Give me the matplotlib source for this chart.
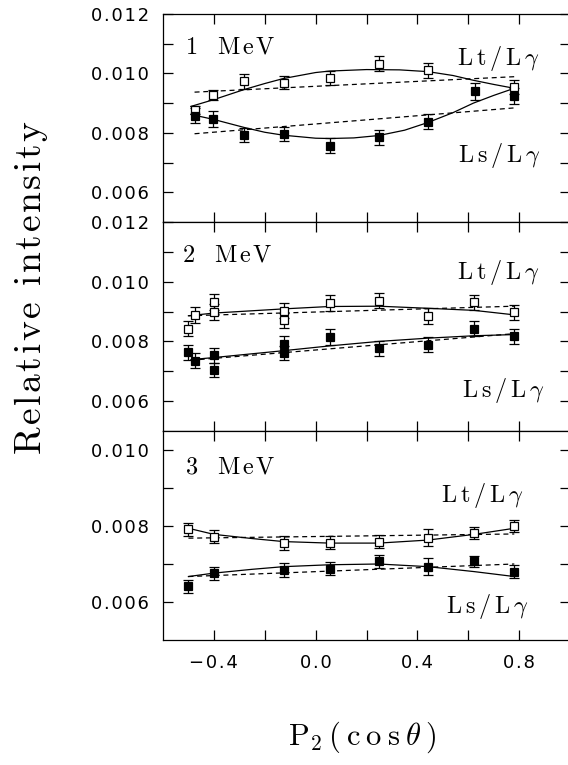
import matplotlib
matplotlib.use("Agg")
import matplotlib.pyplot as plt
from matplotlib.ticker import FixedLocator, FixedFormatter

plt.rcParams['mathtext.fontset'] = 'cm'
plt.rcParams['font.family'] = ['DejaVu Sans']

# ---------------- data ----------------
energies = ["1", "2", "3"]

# Panel 1 (1 MeV)
p1_lt_x = [-0.476, -0.402, -0.281, -0.126, 0.055, 0.248, 0.442, 0.781]
p1_lt_y = [0.00877, 0.00927, 0.00974, 0.00969, 0.00985, 0.01033, 0.01010, 0.00954]
p1_lt_e = [0.00014, 0.00017, 0.00025, 0.00023, 0.00024, 0.00024, 0.00025, 0.00023]
p1_ls_x = [-0.476, -0.402, -0.281, -0.126, 0.055, 0.248, 0.442, 0.626, 0.781]
p1_ls_y = [0.00858, 0.00847, 0.00793, 0.00797, 0.00757, 0.00785, 0.00837, 0.00940, 0.00924]
p1_ls_e = [0.00025, 0.00026, 0.00024, 0.00024, 0.00025, 0.00025, 0.00025, 0.00028, 0.00026]
p1_lt_fit_x = [-0.49, -0.40, -0.28, -0.20, -0.126, 0.0, 0.055, 0.20, 0.33, 0.442, 0.54, 0.62, 0.70, 0.781]
p1_lt_fit_y = [0.00889, 0.00912, 0.00946, 0.00966, 0.00983, 0.01003, 0.01008, 0.01013, 0.01012,
               0.01006, 0.00993, 0.00977, 0.00963, 0.00950]
p1_ls_fit_x = [-0.49, -0.40, -0.28, -0.20, -0.126, 0.0, 0.055, 0.15, 0.248, 0.35, 0.442, 0.54, 0.62, 0.70, 0.781]
p1_ls_fit_y = [0.00862, 0.00845, 0.00818, 0.00802, 0.00792, 0.00782, 0.00781, 0.00783, 0.00791,
               0.00809, 0.00835, 0.00868, 0.00900, 0.00926, 0.00950]
p1_lt_lin_x = [-0.476, 0.781]
p1_lt_lin_y = [0.00937, 0.00989]
p1_ls_lin_x = [-0.476, 0.781]
p1_ls_lin_y = [0.00797, 0.00884]

# Panel 2 (2 MeV)
p2_x = [-0.503, -0.476, -0.399, -0.399, -0.126, -0.126, 0.055, 0.248, 0.442, 0.623, 0.781]
p2_lt_y = [0.00843, 0.00888, 0.00932, 0.00899, 0.00903, 0.00871, 0.00929, 0.00937, 0.00886, 0.00931, 0.00897]
p2_lt_e = [0.00025, 0.00026, 0.00026, 0.00026, 0.00026, 0.00025, 0.00026, 0.00025, 0.00027, 0.00025, 0.00025]
p2_ls_y = [0.00764, 0.00736, 0.00753, 0.00705, 0.00792, 0.00762, 0.00815, 0.00777, 0.00789, 0.00842, 0.00817]
p2_ls_e = [0.00025, 0.00024, 0.00026, 0.00024, 0.00026, 0.00024, 0.00026, 0.00025, 0.00025, 0.00025, 0.00026]
p2_lt_fit_x = [-0.50, -0.40, -0.126, 0.055, 0.248, 0.442, 0.623, 0.781]
p2_lt_fit_y = [0.00886, 0.00895, 0.00909, 0.00917, 0.00918, 0.00911, 0.00904, 0.00889]
p2_ls_fit_x = [-0.49, -0.40, -0.126, 0.055, 0.248, 0.442, 0.623, 0.781]
p2_ls_fit_y = [0.00739, 0.00746, 0.00769, 0.00785, 0.00800, 0.00811, 0.00819, 0.00823]
p2_lt_lin_x = [-0.50, 0.781]
p2_lt_lin_y = [0.00886, 0.00918]
p2_ls_lin_x = [-0.49, 0.781]
p2_ls_lin_y = [0.00737, 0.00826]

# Panel 3 (3 MeV)
p3_x = [-0.50, -0.399, -0.126, 0.055, 0.248, 0.442, 0.623, 0.781]
p3_lt_y = [0.00791, 0.00772, 0.00755, 0.00756, 0.00759, 0.00769, 0.00781, 0.00800]
p3_lt_e = [0.00018, 0.00017, 0.00018, 0.00017, 0.00017, 0.00022, 0.00016, 0.00017]
p3_ls_y = [0.00641, 0.00676, 0.00685, 0.00687, 0.00707, 0.00693, 0.00707, 0.00680]
p3_ls_e = [0.00018, 0.00017, 0.00018, 0.00017, 0.00017, 0.00022, 0.00015, 0.00017]
p3_lt_fit_x = [-0.50, -0.40, -0.25, -0.126, 0.055, 0.248, 0.442, 0.623, 0.781]
p3_lt_fit_y = [0.00794, 0.00778, 0.00767, 0.00759, 0.00755, 0.00755, 0.00763, 0.00778, 0.00794]
p3_ls_fit_x = [-0.50, -0.40, -0.25, -0.126, 0.055, 0.248, 0.442, 0.623, 0.781]
p3_ls_fit_y = [0.00667, 0.00676, 0.00686, 0.00693, 0.00698, 0.00700, 0.00693, 0.00680, 0.00667]
p3_lt_lin_x = [-0.50, 0.781]
p3_lt_lin_y = [0.00768, 0.00779]
p3_ls_lin_x = [-0.50, 0.781]
p3_ls_lin_y = [0.00667, 0.00700]

x_ticks = [-0.4, -0.2, 0.0, 0.2, 0.4, 0.6, 0.8]
x_tick_labels = ["\u22120.4", "", "0.0", "", "0.4", "", "0.8"]
y_ticks_12 = [0.006, 0.008, 0.010, 0.012]
y_tick_labels_12 = ["0.006", "0.008", "0.010", "0.012"]
y_minor_12 = [0.007, 0.009, 0.011]
y_ticks_3 = [0.006, 0.008, 0.010]
y_tick_labels_3 = ["0.006", "0.008", "0.010"]
y_minor_3 = [0.007, 0.009]

# ---------------- helpers ----------------
def spaced(s):
    return "\u200a".join(s)


def mt(tokens, gap):
    return "$" + (r"\hspace{%.2f}" % gap).join(tokens) + "$"


def word_tokens(s):
    out = []
    for ch in s:
        if ch == " ":
            out.append(r"\ ")
        elif ch == "γ":
            out.append(r"\gamma")
        elif ch == "θ":
            out.append(r"\theta")
        else:
            out.append(r"\mathrm{%s}" % ch)
    return out

# ---------------- figure ----------------
W, H = 568, 765
fig = plt.figure(figsize=(W / 100, H / 100), dpi=100)

left = 163 / W
width = (570 - 163) / W
panel_px = [(14, 222), (222, 431), (431, 640)]
ylims = [(0.005, 0.012), (0.005, 0.012), (0.005, 0.0105)]

panels = [
    dict(lt=(p1_lt_x, p1_lt_y, p1_lt_e), ls=(p1_ls_x, p1_ls_y, p1_ls_e),
         ltfit=(p1_lt_fit_x, p1_lt_fit_y), lsfit=(p1_ls_fit_x, p1_ls_fit_y),
         ltlin=(p1_lt_lin_x, p1_lt_lin_y), lslin=(p1_ls_lin_x, p1_ls_lin_y),
         yt=y_ticks_12, ytl=y_tick_labels_12, ym=y_minor_12,
         lab=(0.054, 0.8125), lt_pos=(0.722, 0.755), ls_pos=(0.725, 0.288)),
    dict(lt=(p2_x, p2_lt_y, p2_lt_e), ls=(p2_x, p2_ls_y, p2_ls_e),
         ltfit=(p2_lt_fit_x, p2_lt_fit_y), lsfit=(p2_ls_fit_x, p2_ls_fit_y),
         ltlin=(p2_lt_lin_x, p2_lt_lin_y), lslin=(p2_ls_lin_x, p2_ls_lin_y),
         yt=y_ticks_12, ytl=y_tick_labels_12, ym=y_minor_12,
         lab=(0.047, 0.809), lt_pos=(0.722, 0.727), ls_pos=(0.735, 0.163)),
    dict(lt=(p3_x, p3_lt_y, p3_lt_e), ls=(p3_x, p3_ls_y, p3_ls_e),
         ltfit=(p3_lt_fit_x, p3_lt_fit_y), lsfit=(p3_ls_fit_x, p3_ls_fit_y),
         ltlin=(p3_lt_lin_x, p3_lt_lin_y), lslin=(p3_ls_lin_x, p3_ls_lin_y),
         yt=y_ticks_3, ytl=y_tick_labels_3, ym=y_minor_3,
         lab=(0.054, 0.799), lt_pos=(0.682, 0.66), ls_pos=(0.695, 0.129)),
]

lw = 0.9
for i, (pp, pan) in enumerate(zip(panel_px, panels)):
    top, bot = pp
    ax = fig.add_axes([left, 1 - bot / H, width, (bot - top) / H])
    ax.set_xlim(-0.6, 1.0)
    ax.set_ylim(*ylims[i])
    for sp in ax.spines.values():
        sp.set_linewidth(lw)

    # fits
    ax.plot(*pan["ltfit"], color="black", lw=lw, zorder=2)
    ax.plot(*pan["lsfit"], color="black", lw=lw, zorder=2)
    ax.plot(*pan["ltlin"], color="black", lw=lw, ls=(0, (4, 3)), zorder=2)
    ax.plot(*pan["lslin"], color="black", lw=lw, ls=(0, (4, 3)), zorder=2)

    # data
    x, y, e = pan["lt"]
    ax.errorbar(x, y, yerr=e, fmt="s", ms=5.5, mfc="white", mec="black", mew=0.9,
                ecolor="black", elinewidth=lw, capsize=3.5, capthick=lw, zorder=3)
    x, y, e = pan["ls"]
    ax.errorbar(x, y, yerr=e, fmt="s", ms=5.5, mfc="black", mec="black", mew=0.9,
                ecolor="black", elinewidth=lw, capsize=3.5, capthick=lw, zorder=3)

    # ticks
    ax.xaxis.set_major_locator(FixedLocator(x_ticks))
    if i == 2:
        ax.xaxis.set_major_formatter(FixedFormatter([spaced(t) for t in x_tick_labels]))
    else:
        ax.xaxis.set_major_formatter(FixedFormatter([""] * len(x_ticks)))
    ax.yaxis.set_major_locator(FixedLocator(pan["yt"]))
    ax.yaxis.set_major_formatter(FixedFormatter([spaced(t) for t in pan["ytl"]]))
    ax.yaxis.set_minor_locator(FixedLocator(pan["ym"]))
    ax.tick_params(axis="both", which="both", direction="in", top=True, right=True,
                   length=7, width=lw, labelsize=13, pad=10)

    # texts
    ax.text(*pan["lab"], mt(word_tokens(energies[i] + " ") + [r"\ "] + word_tokens("MeV"), 0.1),
            transform=ax.transAxes, fontsize=17.5, ha="left", va="baseline")
    ax.text(*pan["lt_pos"], mt(word_tokens("Lt/Lγ"), 0.18),
            transform=ax.transAxes, fontsize=17.5, ha="left", va="baseline")
    ax.text(*pan["ls_pos"], mt(word_tokens("Ls/Lγ"), 0.18),
            transform=ax.transAxes, fontsize=17.5, ha="left", va="baseline")

# axis titles
fig.text(31 / W, 1 - 288 / H, mt(word_tokens("Relative intensity"), 0.08),
         rotation=90, fontsize=27, ha="center", va="center")
xl_tokens = [r"\mathrm{P}_{\mathrm{2}}"] + word_tokens("(cos") + [r"\theta", r"\mathrm{)}"]
fig.text(362 / W, 1 - 745 / H, mt(xl_tokens, 0.22), fontsize=22, ha="center", va="baseline")

fig.savefig("out.png", dpi=100)
